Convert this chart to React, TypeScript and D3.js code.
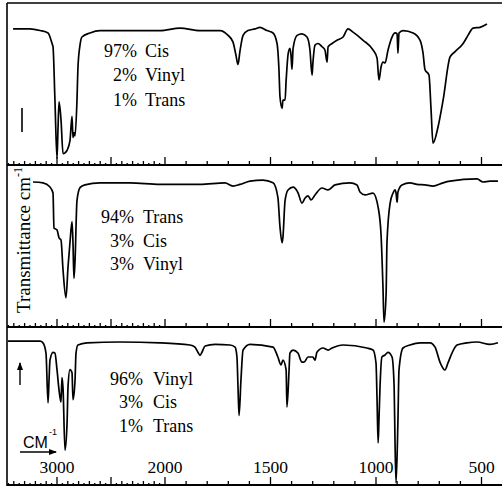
import React from "react";
import * as d3 from "d3";

// ---- data (wavenumber cm-1, transmittance %) ----
const WN_CIS = [3407,3250,3157,3083,3046,3037,3019,3000,2991,2981,2963,2944,2926,2907,2880,2861,2852,2843,2833,2815,2806,2787,2769,2695,2602,2417,2231,2046,1929,1834,1739,1701,1678,1664,1654,1645,1630,1607,1573,1550,1517,1488,1469,1460,1455,1445,1441,1431,1426,1422,1417,1408,1403,1398,1393,1374,1351,1327,1313,1303,1299,1289,1275,1256,1242,1232,1227,1208,1185,1156,1133,1109,1061,1014,995,986,976,967,957,943,924,910,900,896,891,872,824,791,777,768,749,739,730,706,682,649,625,587,564,540,507,474];
const T_CIS = [84,84,83,81.5,75,73,40,4,22,39,28,7,7.5,9,15,30,17,20,18,40,60,74,79,81.5,83,83,83,83,84.5,83,83,80,76,68,62,70,80,83,84,85,83,81.5,75,59,42,35,40,40,52,60,68,72,68,59,72,80,81,79,71,55.5,63,74,75,73,71,63.5,73,75,77,79,84,82,77,71,66,52.5,60.5,63.5,63,71,79,81.5,81,69,81.5,83,81.5,77,69,59,55.5,34,13.5,23.5,40,66.7,70,75,80,84.5,85,87];

const WN_TRANS = [3222,3130,3065,3037,3028,3000,2981,2963,2944,2917,2898,2880,2861,2852,2843,2833,2815,2787,2741,2602,2324,2046,1834,1716,1678,1645,1597,1536,1488,1465,1455,1445,1441,1431,1417,1393,1370,1351,1336,1322,1308,1289,1256,1227,1194,1123,1090,1076,1052,1014,990,976,967,962,952,948,933,919,910,905,900,896,877,839,806,768,730,682,649,521,493,460,422];
const T_TRANS = [89.5,89,86.4,82.7,61,60,55,53.7,35,18,37,52,65,52,30,41,78,86,87.7,89,89,88,88,89,87,88,90,90.7,89,80,61.7,52,55.5,78,84.6,86.4,83,76.5,79.6,80.9,78.4,81.5,85.8,84.6,87.7,89,87.7,83.3,81.5,82.7,74,56.8,24.7,3,21,52,76.5,82.7,84.6,82.7,77,83.3,87.7,89,88,87.7,87,89,90,91.4,89.5,90,90];

const WN_VINYL = [3454,3157,3130,3102,3083,3074,3065,3037,3019,3000,2981,2963,2954,2944,2926,2907,2898,2880,2861,2852,2833,2824,2806,2722,2417,2046,1882,1858,1844,1834,1825,1810,1763,1692,1668,1659,1654,1649,1640,1630,1597,1488,1465,1450,1441,1426,1422,1412,1408,1393,1370,1351,1341,1322,1299,1289,1280,1251,1227,1208,1156,1043,1014,1000,995,990,986,981,972,957,943,924,914,910,905,896,891,872,839,791,744,720,697,673,659,640,616,569,521,460,422];
const T_VINYL = [91,91,90,83.5,52,66,79,84,83.5,73,60,52.5,68,61,22,39,62,73,71,54,66.5,83.5,88.6,90,90.5,90,88.6,87.3,84,82,84,88,89,88.6,87.3,81,62,44,66.5,85.4,89,87.3,81,76,79,72.8,49.4,72.8,83.5,85.4,83.5,77.8,77.8,81,81,79,84,86.7,85.4,86.7,88.6,86.7,85.4,77.2,53.8,26.6,41,62,81,82.3,84,81,62,28.5,1.3,41,72.8,86.7,88.6,90,90,87.3,77.8,72.8,77.2,83.5,88.6,90,90.5,89,90];

const PCT_1 = ["97%", "2%", "1%"];
const NAMES_1 = ["Cis", "Vinyl", "Trans"];
const PCT_2 = ["94%", "3%", "3%"];
const NAMES_2 = ["Trans", "Cis", "Vinyl"];
const PCT_3 = ["96%", "3%", "1%"];
const NAMES_3 = ["Vinyl", "Cis", "Trans"];

const TICK_LABELS = [3000, 2000, 1500, 1000, 500];

// ---- layout ----
const W = 502, H = 494;
const LEFT = 7, RIGHT = 502;
const PANELS = [
  { top: 3, bottom: 165, wn: WN_CIS, t: T_CIS, pct: PCT_1, names: NAMES_1, pctEnd: 137, nameStart: 145, base: [57, 81, 106] },
  { top: 165, bottom: 327, wn: WN_TRANS, t: T_TRANS, pct: PCT_2, names: NAMES_2, pctEnd: 134, nameStart: 143, base: [223, 247, 270] },
  { top: 327, bottom: 485, wn: WN_VINYL, t: T_VINYL, pct: PCT_3, names: NAMES_3, pctEnd: 143, nameStart: 153, base: [385, 408, 432] },
];

const x = d3.scaleLinear().domain([3500, 2000, 400]).range([3, 165, 502.6]);

const SERIF = "'Liberation Serif', 'DejaVu Serif', serif";
const SANS = "'Liberation Sans', Arial, sans-serif";

function ticksFor(yLine: number, key: string) {
  const out: JSX.Element[] = [];
  for (let w = 3450; w > 2000; w -= 50) {
    const len = w % 500 === 0 ? 8 : w % 100 === 0 ? 4 : 2;
    out.push(<line key={key + "u" + w} x1={x(w)} x2={x(w)} y1={yLine} y2={yLine - len} stroke="#000" strokeWidth={1.3} />);
  }
  for (let w = 2000; w >= 500; w -= 100) {
    const len = w % 500 === 0 ? 8 : 4;
    out.push(<line key={key + "l" + w} x1={x(w)} x2={x(w)} y1={yLine} y2={yLine - len} stroke="#000" strokeWidth={1.3} />);
  }
  return out;
}

export default function App() {
  return (
    <svg width={W} height={H} style={{ position: "absolute", left: 0, top: 0, background: "#fff" }}>
      <defs>
        <marker id="ah" markerWidth="8" markerHeight="6" refX="7" refY="3" orient="auto" markerUnits="userSpaceOnUse">
          <path d="M0,0 L8,3 L0,6 Z" fill="#000" />
        </marker>
      </defs>
      <rect x={0} y={0} width={W} height={H} fill="#fff" />
      {PANELS.map((p, i) => {
        const y = d3.scaleLinear().domain([0, 100]).range([p.bottom, p.top]);
        const pts = p.wn.map((w, k) => [x(w), y(p.t[k])] as [number, number]);
        const path = d3.line().curve(d3.curveMonotoneX)(pts) || "";
        return (
          <g key={"p" + i}>
            <path d={path} fill="none" stroke="#000" strokeWidth={1.7} strokeLinejoin="round" />
            {p.pct.map((s, k) => (
              <g key={"t" + k} fontFamily={SERIF} fontSize={18} fill="#000">
                <text x={p.pctEnd} y={p.base[k]} textAnchor="end">{s}</text>
                <text x={p.nameStart} y={p.base[k]}>{p.names[k]}</text>
              </g>
            ))}
          </g>
        );
      })}
      {/* frame */}
      <line x1={LEFT} x2={LEFT} y1={3} y2={486} stroke="#000" strokeWidth={1.6} />
      <line x1={LEFT} x2={RIGHT} y1={3} y2={3} stroke="#000" strokeWidth={1.5} />
      {[165, 327, 485].map((yy) => (
        <g key={"s" + yy}>
          <line x1={LEFT} x2={RIGHT} y1={yy} y2={yy} stroke="#000" strokeWidth={1.8} />
          {ticksFor(yy, "k" + yy)}
        </g>
      ))}
      {/* tick labels */}
      {TICK_LABELS.map((w) => (
        <text key={"tl" + w} x={x(w)} y={473} textAnchor="middle" fontFamily={SERIF} fontSize={17.5} fill="#000">{w}</text>
      ))}
      {/* y label */}
      <text transform="translate(30,240) rotate(-90)" textAnchor="middle" fontFamily={SERIF} fontSize={19} fill="#000">
        Transmittance cm<tspan fontSize={12} dy={-8}>-1</tspan>
      </text>
      {/* markers */}
      <line x1={22} x2={22} y1={108} y2={132} stroke="#000" strokeWidth={1.6} />
      <line x1={20} x2={20} y1={385} y2={363} stroke="#000" strokeWidth={1.4} markerEnd="url(#ah)" />
      {/* CM-1 arrow */}
      <text x={23} y={448} fontFamily={SANS} fontSize={16} fill="#000">CM</text>
      <text x={49} y={435} fontFamily={SANS} fontSize={9} fill="#000">-1</text>
      <line x1={20} x2={56} y1={452} y2={452} stroke="#000" strokeWidth={1.4} markerEnd="url(#ah)" />
    </svg>
  );
}
